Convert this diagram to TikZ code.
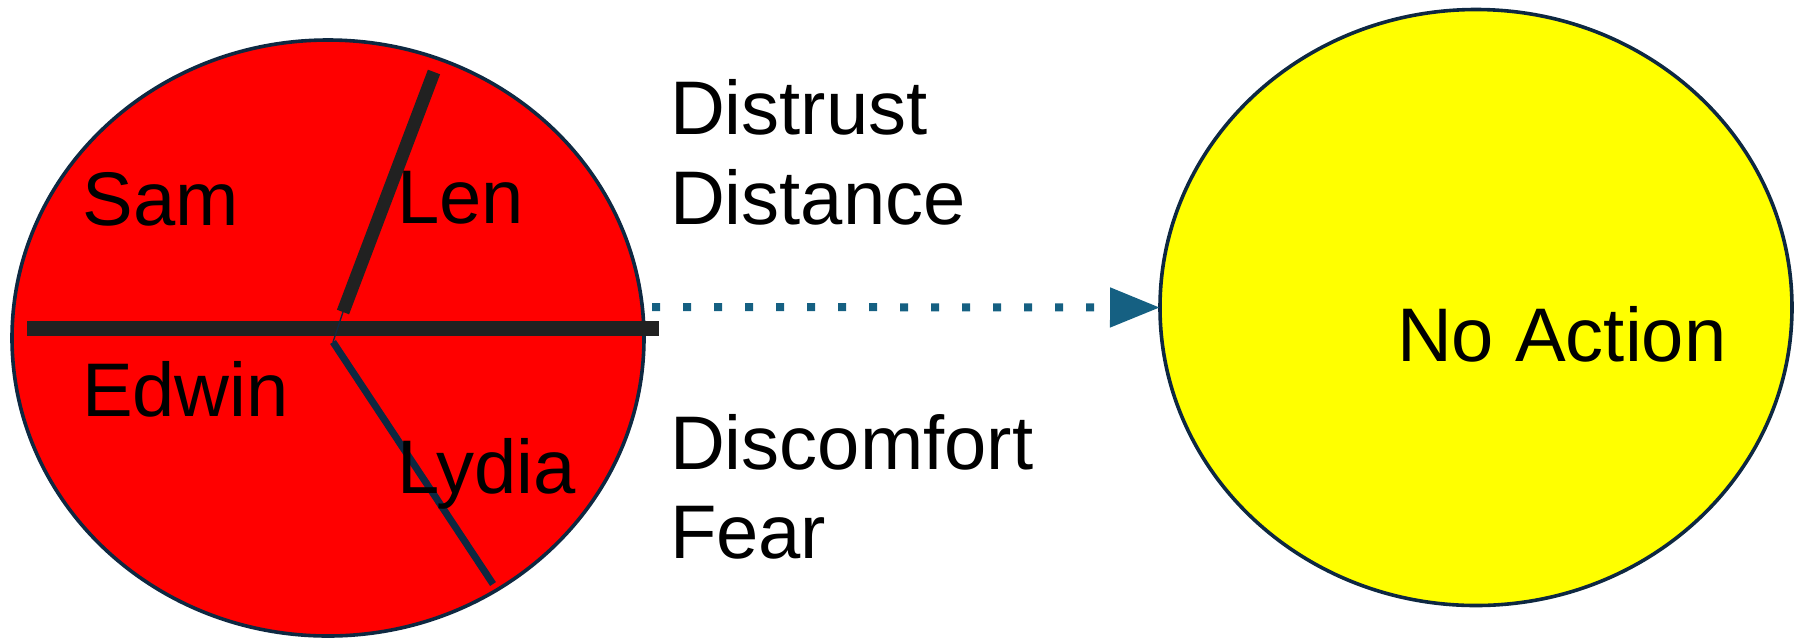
\documentclass[tikz,border=0pt]{standalone}
\usepackage{fontspec}
\setmainfont{Liberation Sans}
\usetikzlibrary{shapes.geometric,arrows.meta}
\definecolor{rimc}{HTML}{0E2841}
\definecolor{barc}{HTML}{212121}
\definecolor{arrc}{HTML}{156082}
\definecolor{redfill}{HTML}{FF0000}
\definecolor{yelfill}{HTML}{FFFF00}
\tikzset{
  blob/.style={ellipse, draw=rimc, line width=1.8pt, inner sep=0pt, outer sep=0pt,
    minimum width=316pt, minimum height=298pt},
  lbl/.style={anchor=base west, inner sep=0pt, outer sep=0pt, font=\fontsize{38pt}{44pt}\selectfont},
  bar/.style={draw=barc, line cap=butt},
}
\begin{document}
\begin{tikzpicture}[x=0.5pt,y=-0.5pt]
\useasboundingbox (0,0) rectangle (1800,639);
\node[blob, fill=redfill] (red) at (328,338) {};
\node[blob, fill=yelfill] (yel) at (1476,307.5) {};
% dividers
\coordinate (hL) at (27,328.5);
\coordinate (hR) at (659,328.5);
\coordinate (lenT) at (434,72);
\coordinate (lenB) at (343,312);
\coordinate (lydT) at (333,342);
\coordinate (lydB) at (493,584);
\draw[bar, line width=7.5pt] (hL) -- (hR);
\draw[bar, line width=6.5pt] (lenB) -- (lenT);
\draw[draw=rimc, line width=3.5pt] (lydT) -- (lydB);
\draw[draw=rimc, line width=0.7pt] (lenB) -- (lydT);
% labels
\node[lbl] (sam) at (83,225) {Sam};
\node[lbl] (len) at (397,223) {Len};
\node[lbl] (edwin) at (82,416) {Edwin};
\node[lbl] (lydia) at (397,493) {Lydia};
\node[lbl] (t1) at (670,134) {Distrust};
\node[lbl] (t2) at (670,224) {Distance};
\node[lbl] (t3) at (670,469) {Discomfort};
\node[lbl] (t4) at (670,558) {Fear};
\node[lbl] (noact) at (1397,361) {No Action};
% arrow
\coordinate (aS) at (652,307);
\draw[draw=arrc, line width=4pt, dash pattern=on 4pt off 11.5pt,
  -{Triangle[length=25pt,width=19pt]}] (aS) -- (yel.west);
\end{tikzpicture}
\end{document}
